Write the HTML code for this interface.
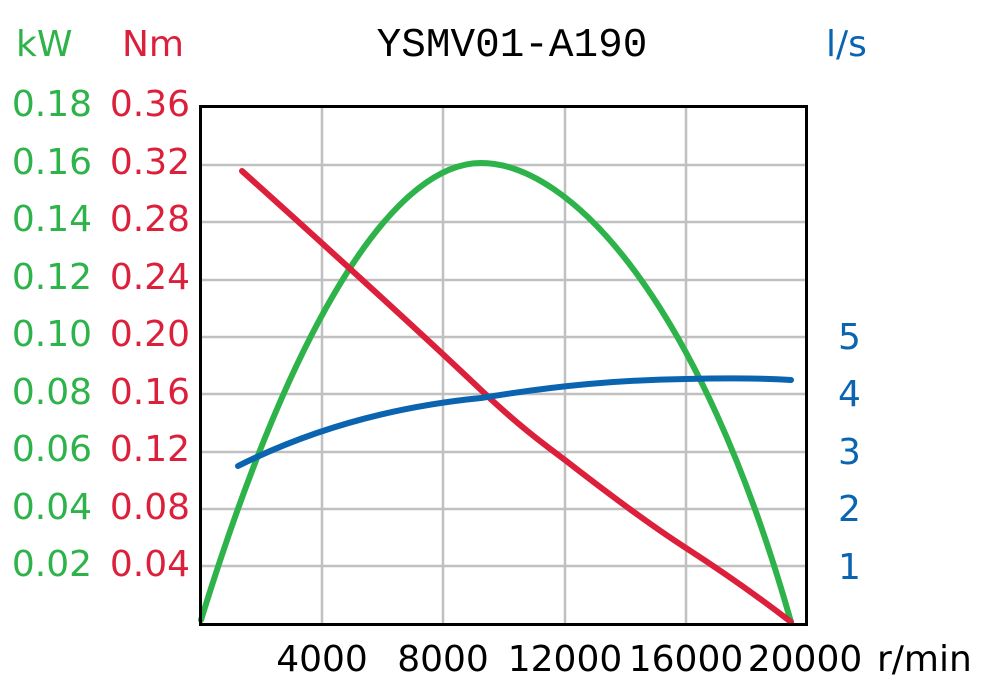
<!DOCTYPE html>
<html><head><meta charset="utf-8"><style>
html,body{margin:0;padding:0;background:#fff;}
svg{display:block}
text{font-family:"DejaVu Sans","Liberation Sans",sans-serif;font-size:36px;}
</style></head><body>
<svg width="989" height="685" viewBox="0 0 989 685">
<g stroke="#c0c0c0" stroke-width="2.5">
<line x1="322" y1="107" x2="322" y2="623"/><line x1="443" y1="107" x2="443" y2="623"/>
<line x1="565" y1="107" x2="565" y2="623"/><line x1="686" y1="107" x2="686" y2="623"/>
<line x1="200" y1="165" x2="806" y2="165"/><line x1="200" y1="222" x2="806" y2="222"/>
<line x1="200" y1="280" x2="806" y2="280"/><line x1="200" y1="337" x2="806" y2="337"/>
<line x1="200" y1="394" x2="806" y2="394"/><line x1="200" y1="452" x2="806" y2="452"/>
<line x1="200" y1="509" x2="806" y2="509"/><line x1="200" y1="566" x2="806" y2="566"/>
</g>
<g fill="none" stroke-width="6" stroke-linecap="round">
<path d="M201,620 C300,300 400,163 481,163 C570,163 700,300 791,622" stroke="#2db34a"/>
<path d="M242,171 C310,232 420,332 481,390 C520,427 545,445 565,460 C610,495 650,525 686,548 C720,570 760,598 791,622" stroke="#dc1f3a"/>
<path d="M238,466 C330,420 420,404 481,398 C560,385 620,380 686,379 C730,378 760,378 791,380" stroke="#0a64b0"/>
</g>
<rect x="200.5" y="106.5" width="606" height="518" fill="none" stroke="#000" stroke-width="3"/>
<text x="512" y="56" text-anchor="middle" style="font-family:'Liberation Mono',monospace;font-size:41px">YSMV01-A190</text>
<text x="16" y="56" fill="#2db34a">kW</text>
<text x="122" y="56" fill="#dc1f3a">Nm</text>
<text x="826" y="56" fill="#0a64b0">l/s</text>
<g fill="#2db34a" text-anchor="end">
<text x="92" y="116">0.18</text><text x="92" y="174">0.16</text><text x="92" y="231">0.14</text>
<text x="92" y="289">0.12</text><text x="92" y="346">0.10</text><text x="92" y="404">0.08</text>
<text x="92" y="461">0.06</text><text x="92" y="519">0.04</text><text x="92" y="576">0.02</text>
</g>
<g fill="#dc1f3a" text-anchor="end">
<text x="190" y="116">0.36</text><text x="190" y="174">0.32</text><text x="190" y="231">0.28</text>
<text x="190" y="289">0.24</text><text x="190" y="346">0.20</text><text x="190" y="404">0.16</text>
<text x="190" y="461">0.12</text><text x="190" y="519">0.08</text><text x="190" y="576">0.04</text>
</g>
<g fill="#0a64b0">
<text x="838" y="349">5</text><text x="838" y="406">4</text><text x="838" y="464">3</text>
<text x="838" y="521">2</text><text x="838" y="579">1</text>
</g>
<g text-anchor="middle">
<text x="322" y="671">4000</text><text x="443" y="671">8000</text><text x="565" y="671">12000</text>
<text x="686" y="671">16000</text><text x="805" y="671">20000</text>
</g>
<text x="877" y="671">r/min</text>
</svg>
</body></html>
